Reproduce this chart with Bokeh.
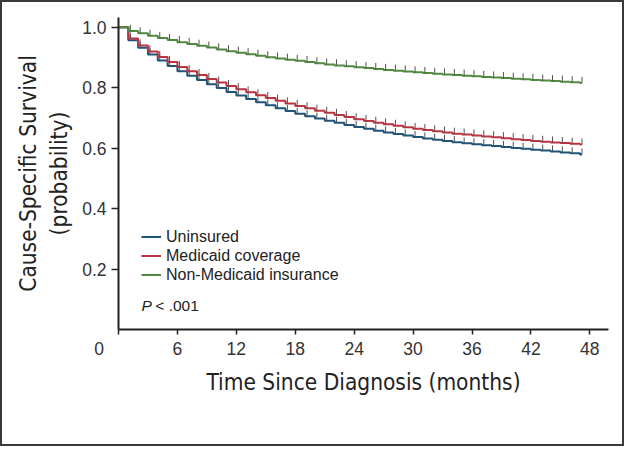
from bokeh.plotting import figure
from bokeh.models import Range1d, FixedTicker, Legend, LegendItem, Label
from bokeh.embed import file_html
from bokeh.resources import INLINE

months = list(range(0, 48))
uninsured = [1.000, 0.957, 0.932, 0.910, 0.890, 0.872, 0.855, 0.840, 0.826, 0.812,
             0.799, 0.786, 0.774, 0.763, 0.752, 0.742, 0.732, 0.723, 0.714, 0.706,
             0.698, 0.691, 0.684, 0.677, 0.670, 0.664, 0.658, 0.652, 0.647, 0.642,
             0.637, 0.632, 0.628, 0.624, 0.620, 0.616, 0.613, 0.610, 0.607, 0.604,
             0.601, 0.598, 0.595, 0.592, 0.589, 0.586, 0.583, 0.579]
medicaid = [1.000, 0.963, 0.940, 0.920, 0.902, 0.885, 0.869, 0.855, 0.842, 0.829,
            0.817, 0.806, 0.795, 0.785, 0.775, 0.766, 0.757, 0.748, 0.740, 0.732,
            0.724, 0.717, 0.710, 0.703, 0.696, 0.690, 0.684, 0.679, 0.674, 0.669,
            0.664, 0.660, 0.656, 0.652, 0.648, 0.645, 0.642, 0.639, 0.636, 0.633,
            0.630, 0.627, 0.624, 0.621, 0.619, 0.617, 0.615, 0.612]
non_medicaid = [1.000, 0.988, 0.980, 0.972, 0.965, 0.958, 0.951, 0.945, 0.939, 0.933,
                0.927, 0.921, 0.916, 0.911, 0.906, 0.901, 0.897, 0.893, 0.889, 0.885,
                0.881, 0.877, 0.874, 0.871, 0.868, 0.865, 0.862, 0.859, 0.856, 0.854,
                0.851, 0.849, 0.846, 0.844, 0.842, 0.840, 0.838, 0.836, 0.834, 0.832,
                0.830, 0.828, 0.826, 0.824, 0.822, 0.820, 0.818, 0.816]
series_names = ["Uninsured", "Medicaid coverage", "Non-Medicaid insurance"]
series_colors = ["#1f5378", "#bb3440", "#4f8a3e"]
x_ticks = [0, 6, 12, 18, 24, 30, 36, 42, 48]
y_ticks = [0.2, 0.4, 0.6, 0.8, 1.0]

TICK_OFF = 0.2
CENSOR_H = 0.02
NBSP = "\u00a0"

p = figure(width=624, height=446, output_backend="svg", toolbar_location=None,
           x_range=Range1d(0, 49.9), y_range=Range1d(0, 1.0325),
           min_border_left=116, min_border_right=18, min_border_top=15,
           min_border_bottom=119)
p.styles = {"border": "2px solid #3a3a3a", "box-sizing": "border-box"}
p.outline_line_color = None
p.grid.visible = False
p.background_fill_color = "white"
p.border_fill_color = "white"

items = []
for name, col, vals in zip(series_names, series_colors, [uninsured, medicaid, non_medicaid]):
    xs = months + [months[-1] + TICK_OFF]
    ys = vals + [vals[-1]]
    r = p.step(xs, ys, mode="after", line_color=col, line_width=2)
    cx = [m + TICK_OFF for m in months[1:]]
    cy = vals[1:]
    p.segment(x0=cx, y0=cy, x1=cx, y1=[v + CENSOR_H for v in cy],
              line_color="#505050", line_width=1)
    items.append(LegendItem(label=name, renderers=[r]))

legend = Legend(items=items, location=(23, 45), padding=0, margin=0, spacing=0,
                glyph_width=20, glyph_height=19, label_height=19, label_standoff=5,
                label_text_font="Liberation Sans", label_text_font_size="16px",
                label_text_color="#222222", border_line_alpha=0,
                background_fill_alpha=0)
p.add_layout(legend)

font_cond = "'DejaVu Sans Condensed', Roboto, sans-serif"
for ax in (p.xaxis[0], p.yaxis[0]):
    ax.axis_line_width = 2
    ax.axis_line_color = "#222222"
    ax.major_tick_line_color = "#222222"
    ax.major_tick_line_width = 1.5
    ax.minor_tick_line_color = None
    ax.major_label_text_font = "Liberation Sans"
    ax.major_label_text_font_size = "17.5px"
    ax.major_label_text_color = "#333333"
    ax.axis_label_text_font = font_cond
    ax.axis_label_text_font_size = "22.5px"
    ax.axis_label_text_font_style = "normal"
    ax.axis_label_text_color = "#222222"

p.xaxis.ticker = FixedTicker(ticks=x_ticks)
p.xaxis.major_label_overrides = {0: "0" + NBSP * 8}
p.xaxis.major_tick_in = 0
p.xaxis.major_tick_out = 5
p.xaxis.major_label_standoff = 4
p.xaxis.axis_label = "Time Since Diagnosis (months)"
p.xaxis.axis_label_standoff = 7

p.yaxis.ticker = FixedTicker(ticks=y_ticks)
p.yaxis.major_label_overrides = {v: f"{v:.1f}" for v in y_ticks}
p.yaxis.major_tick_in = 0
p.yaxis.major_tick_out = 7
p.yaxis.major_label_standoff = 5
p.yaxis.axis_label = "Cause-Specific Survival\n(probability)"
p.yaxis.axis_label_standoff = 7

p.add_layout(Label(x=2.35, y=0.078, text="P", text_align="left",
                   text_baseline="middle", text_font="Liberation Sans",
                   text_font_style="italic", text_font_size="15.5px",
                   text_color="#222222"))
p.add_layout(Label(x=3.75, y=0.078, text="< .001", text_align="left",
                   text_baseline="middle", text_font="Liberation Sans",
                   text_font_size="15.5px", text_color="#222222"))

open("out.html", "w").write(file_html(p, INLINE))
